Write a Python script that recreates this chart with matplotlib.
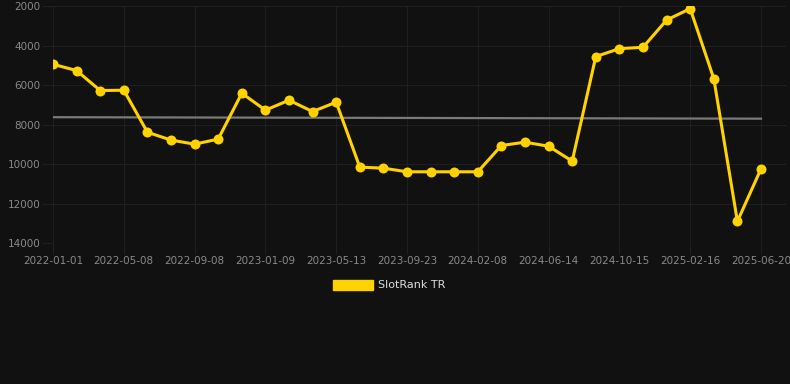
import numpy as np
import matplotlib
matplotlib.use('Agg')
import matplotlib.pyplot as plt
from matplotlib.patches import Patch

# rank values, one point every ~6 weeks (categorical x axis)
ranks = [4950, 5270, 6280, 6265, 8390, 8790, 8995, 8740, 6415, 7275, 6770,
         7345, 6870, 10160, 10210, 10395, 10395, 10395, 10395, 9065, 8895,
         9100, 9855, 4560, 4160, 4090, 2710, 2135, 5675, 12905, 10245]
tick_labels = ['2022-01-01', '2022-05-08', '2022-09-08', '2023-01-09', '2023-05-13',
               '2023-09-23', '2024-02-08', '2024-06-14', '2024-10-15', '2025-02-16',
               '2025-06-20']
y_ticks = [2000, 4000, 6000, 8000, 10000, 12000, 14000]

bg = '#111111'
grid_c = '#1f1f1f'
txt_c = '#8a8a8a'
gold = '#FFD200'

x = np.arange(len(ranks))
# trend line (linear fit)
k, b = np.polyfit(x, ranks, 1)
trend = k * x + b

fig = plt.figure(figsize=(7.9, 3.84), dpi=100, facecolor=bg)
W, H = 790, 384
left, right, top, bottom = 53, 786, 6, 243
ax = fig.add_axes([left / W, 1 - bottom / H, (right - left) / W, (bottom - top) / H])
ax.set_facecolor(bg)

ax.plot([x[0], x[-1]], [trend[0], trend[-1]], color='#7a7a7a', lw=1.6, zorder=2)
ax.plot(x, ranks, color=gold, lw=2.2, marker='o', markersize=7.2,
        markeredgewidth=0, zorder=3)

ax.set_xlim(0, 30 + (right - 761) / 23.6)
ax.set_ylim(14000, 2000)
ax.set_yticks(y_ticks)
ax.set_yticklabels([str(v) for v in y_ticks])
ax.set_xticks(x[::3])
ax.set_xticklabels(tick_labels)

ax.grid(True, color=grid_c, lw=0.8)
ax.set_axisbelow(True)
for s in ax.spines.values():
    s.set_visible(False)
ax.tick_params(axis='both', colors=grid_c, length=8, width=0.8, labelsize=7.5,
               labelcolor=txt_c)
ax.tick_params(axis='x', pad=1)
ax.tick_params(axis='y', pad=1)

leg = fig.legend(handles=[Patch(facecolor=gold, edgecolor=gold, label='SlotRank TR')],
                 loc='center', bbox_to_anchor=(389 / W, 1 - 285 / H), frameon=False,
                 handlelength=3.6, handleheight=1.0, handletextpad=0.5, fontsize=8,
                 labelcolor='#dddddd')

fig.savefig('out.png', dpi=100, facecolor=bg)
